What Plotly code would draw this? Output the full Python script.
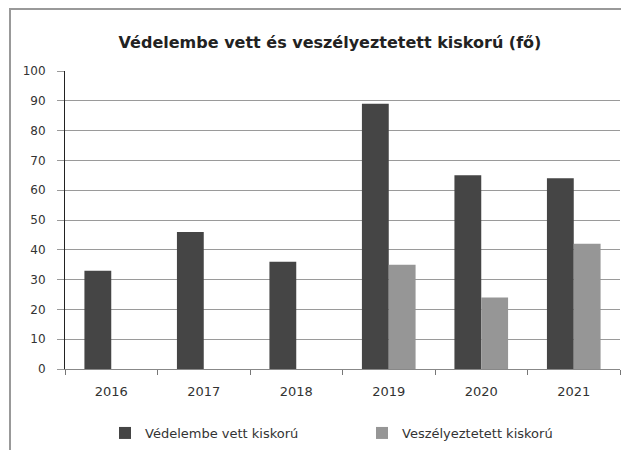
import plotly.graph_objects as go

years = ["2016", "2017", "2018", "2019", "2020", "2021"]
vedelembe = [33, 46, 36, 89, 65, 64]
veszelyeztetett = [None, None, None, 35, 24, 42]
y_ticks = [0, 10, 20, 30, 40, 50, 60, 70, 80, 90, 100]

FONT = "DejaVu Sans"

# the page puts the figure 8px in from the top-left corner, margins allow for it
L, T, PW, PH = 57, 63, 555, 298

fig = go.Figure()
fig.add_trace(go.Bar(
    x=years, y=vedelembe, name="Védelembe vett kiskorú",
    marker=dict(color="#454545", line=dict(width=0)),
))
fig.add_trace(go.Bar(
    x=years, y=veszelyeztetett, name="Veszélyeztetett kiskorú",
    marker=dict(color="#969696", line=dict(width=0)),
))

fig.update_layout(
    width=629, height=450,
    margin=dict(l=L, r=629 - L - PW, t=T, b=450 - T - PH),
    paper_bgcolor="white", plot_bgcolor="white",
    barmode="group", bargap=0.42, bargroupgap=0,
    font=dict(family=FONT, size=12, color="#222"),
    title=dict(
        text="<b>Védelembe vett és veszélyeztetett kiskorú (fő)</b>",
        x=322 / 629, xanchor="center", y=1 - 34 / 450, yanchor="middle",
        font=dict(family=FONT, size=16, color="#222"),
    ),
    showlegend=True,
    legend=dict(
        orientation="h", xref="container", yref="container",
        x=354 / 629, xanchor="center", y=1 - 425 / 450, yanchor="middle",
        font=dict(family=FONT, size=13, color="#333"),
        entrywidth=212, entrywidthmode="pixels", traceorder="normal",
    ),
    xaxis=dict(
        showgrid=False, showline=True, linecolor="#888", linewidth=1,
        ticks="outside", tickson="boundaries", ticklen=5, tickcolor="#777",
        ticklabelstandoff=10,
        tickfont=dict(size=13, color="#333"),
    ),
    yaxis=dict(
        range=[0, 100], tickvals=y_ticks, showgrid=True,
        gridcolor="#9a9a9a", gridwidth=1,
        showline=True, linecolor="#222", linewidth=1,
        ticks="outside", ticklen=7, tickcolor="#9a9a9a",
        ticklabelstandoff=9,
        tickfont=dict(size=12, color="#333"), zeroline=False,
    ),
)

# outer chart frame
fig.add_shape(type="rect", xref="paper", yref="paper",
              x0=(2 - L) / PW, x1=1.1, y0=-0.5, y1=1 + (T - 1) / PH,
              line=dict(color="#999", width=2), fillcolor="rgba(0,0,0,0)",
              layer="below")

fig.write_html("out.html")
